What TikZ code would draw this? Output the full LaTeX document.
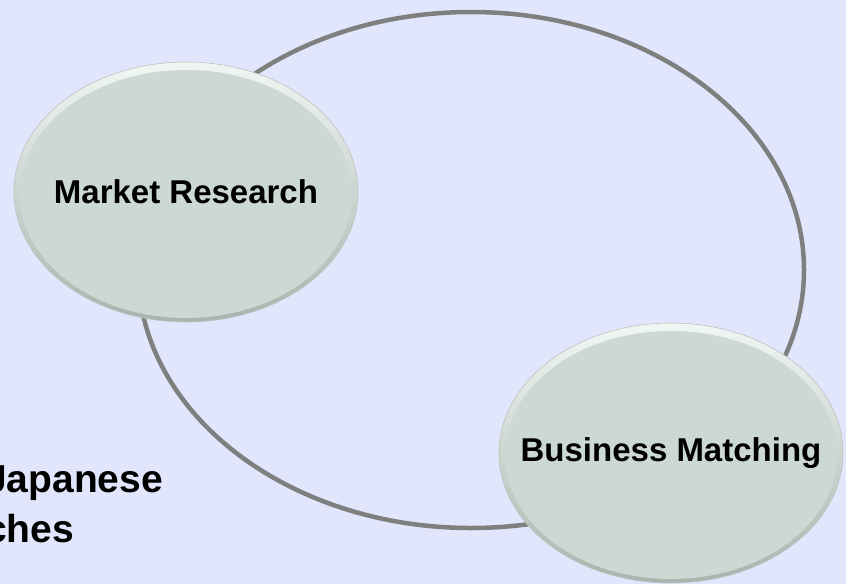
\documentclass[tikz,border=0pt]{standalone}
\usepackage{fontspec}
\setmainfont{Liberation Sans}
\usetikzlibrary{shapes.geometric}

\definecolor{lavender}{RGB}{226,230,252}
\definecolor{ringgray}{RGB}{127,127,127}
\definecolor{ballfill}{RGB}{203,217,210}
\definecolor{balltop}{RGB}{240,246,243}
\definecolor{ballbottom}{RGB}{170,180,175}

\tikzset{
  ball/.style={ellipse, minimum width=344pt, minimum height=260pt, inner sep=0pt,
    top color=balltop, bottom color=ballbottom, draw=ballbottom!80, line width=0.6pt,
    path picture={\fill[ballfill] ([yshift=-2pt]path picture bounding box.center)
      ellipse [x radius=166pt, y radius=124pt];},
    font=\bfseries\fontsize{33}{38}\selectfont},
  ring/.style={draw=ringgray, line width=4.5pt}
}

\begin{document}
\begin{tikzpicture}[x=1pt,y=-1pt]
   \fill[lavender] (0,0) rectangle (846,584);
   \useasboundingbox (0,0) rectangle (846,584);
   % the cycle
   \draw[ring] (471,270) ellipse [x radius=333pt, y radius=258pt];
   % the two steps
   \node[ball] (market)   at (186,192) {\makebox[0pt]{Market Research}};
   \node[ball] (matching) at (671,453) {\makebox[0pt]{Business Matching}};
   % cut off text on the left
   \node[anchor=north west, align=left, inner sep=0pt,
         font=\bfseries\fontsize{39}{50}\selectfont] (note) at (-15,465) {Japanese\\ches};
\end{tikzpicture}
\end{document}
